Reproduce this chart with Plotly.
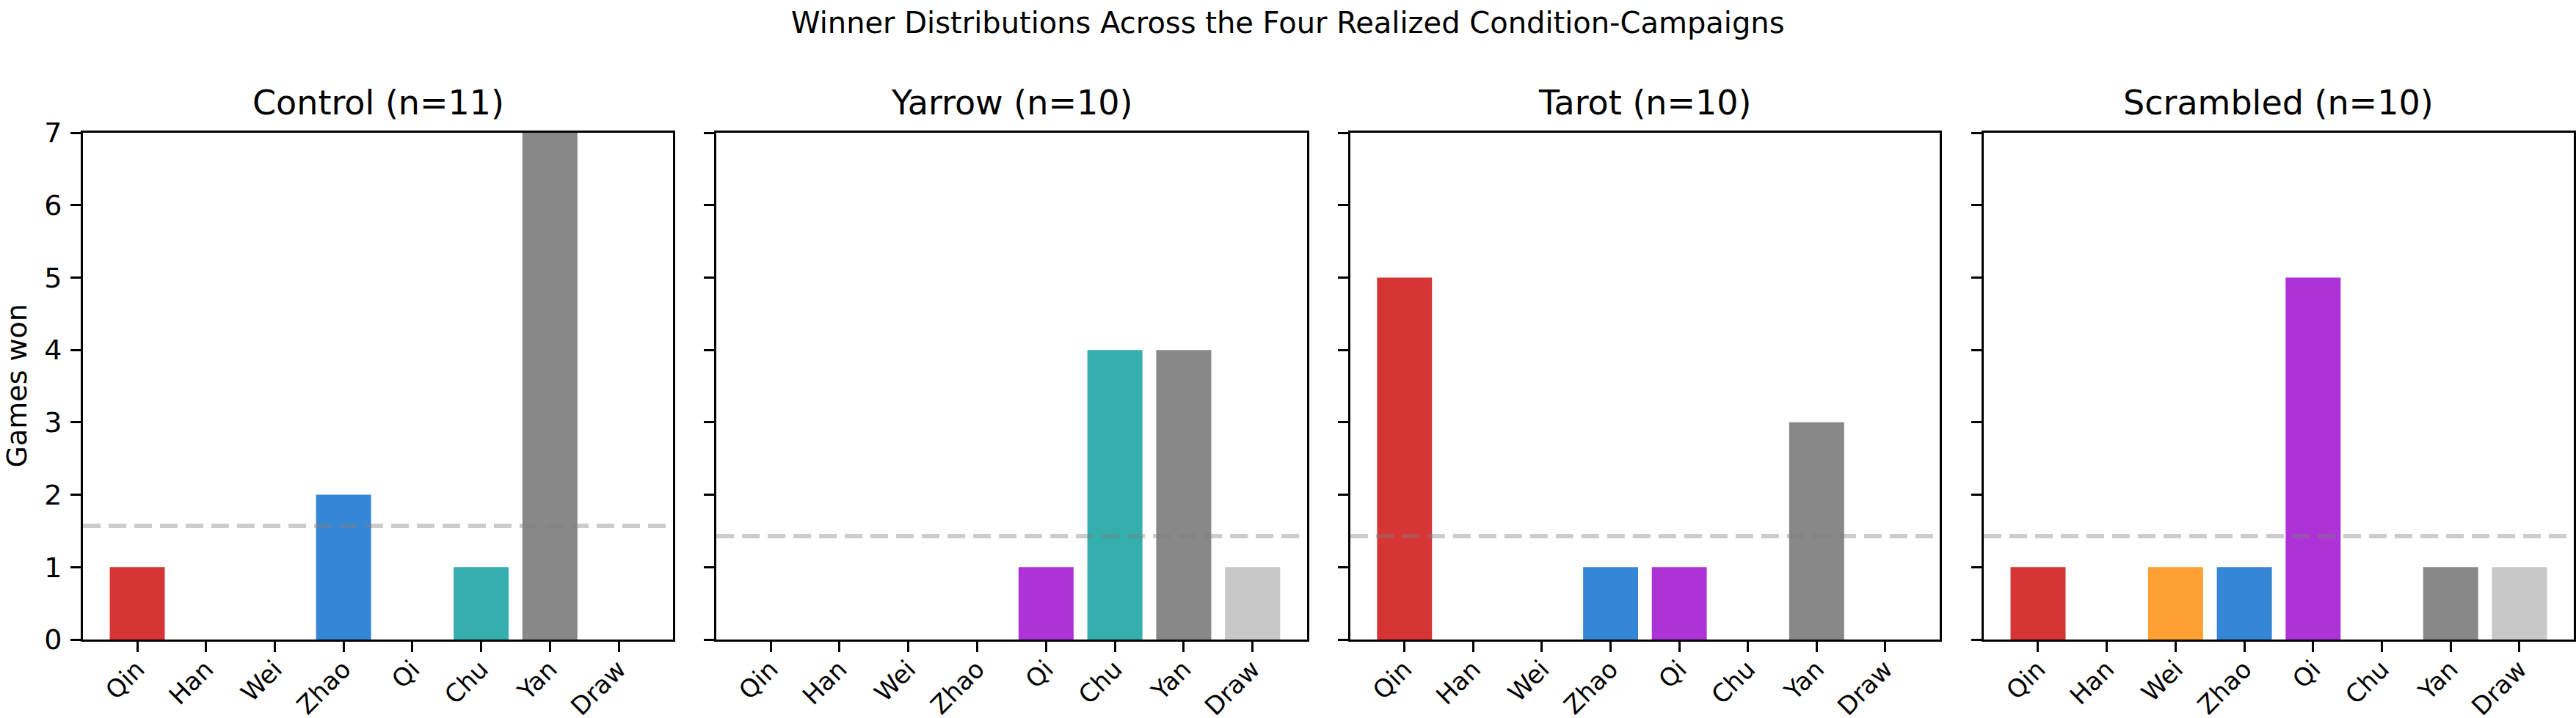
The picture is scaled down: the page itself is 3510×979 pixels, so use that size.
import plotly.graph_objects as go

# ---- data ----
categories = ["Qin", "Han", "Wei", "Zhao", "Qi", "Chu", "Yan", "Draw"]
panel_names = ["Control", "Yarrow", "Tarot", "Scrambled"]
control = [1, 0, 0, 2, 0, 1, 7, 0]
yarrow = [0, 0, 0, 0, 1, 4, 4, 1]
tarot = [5, 0, 0, 1, 1, 0, 3, 0]
scrambled = [1, 0, 1, 1, 5, 0, 1, 1]
series = [control, yarrow, tarot, scrambled]
n_states = 7
bar_colors = ["#d63535", "#43a047", "#ffa035", "#3686d6", "#ad33d6", "#35aeae", "#888888", "#c8c8c8"]
y_ticks = [0, 1, 2, 3, 4, 5, 6, 7]
suptitle = "Winner Distributions Across the Four Realized Condition-Campaigns"
y_label = "Games won"

# ---- layout geometry ----
W, H = 3510, 979
ML, MR, MT, MB = 113, 3, 181, 107
domains = [[0.0, 0.2369], [0.2543, 0.4914], [0.5088, 0.7454], [0.7631, 1.0]]
FONT = "DejaVu Sans"

fig = go.Figure()
layout = dict(
    width=W, height=H,
    margin=dict(l=ML, r=MR, t=MT, b=MB, pad=0, autoexpand=False),
    paper_bgcolor="white", plot_bgcolor="white",
    showlegend=False,
    font=dict(family=FONT, size=38, color="black"),
    bargap=0.2,
)
annotations = []
shapes = []
for i, (name, vals) in enumerate(zip(panel_names, series)):
    xa = "x" if i == 0 else f"x{i+1}"
    ya = "y" if i == 0 else f"y{i+1}"
    n = sum(vals)
    fig.add_trace(go.Bar(
        x=categories, y=vals, xaxis=xa, yaxis=ya,
        marker=dict(color=bar_colors, line=dict(width=0)),
        width=0.8,
    ))
    layout["xaxis" if i == 0 else f"xaxis{i+1}"] = dict(
        domain=domains[i], anchor=ya, automargin=False,
        range=[-0.79, 7.79], type="category",
        categoryorder="array", categoryarray=categories,
        showline=True, linecolor="black", linewidth=3, mirror=True,
        ticks="outside", ticklen=14, tickwidth=3, tickcolor="black",
        tickangle=-45, tickfont=dict(family=FONT, size=34),
        ticklabeloverflow="allow", ticklabelstandoff=-10,
        showgrid=False, zeroline=False,
    )
    layout["yaxis" if i == 0 else f"yaxis{i+1}"] = dict(
        domain=[0, 1], anchor=xa, automargin=False,
        range=[0, 7], tickvals=y_ticks,
        showticklabels=(i == 0),
        showline=True, linecolor="black", linewidth=3, mirror=True,
        ticks="outside", ticklen=14, tickwidth=3, tickcolor="black",
        tickfont=dict(family=FONT, size=38), ticklabelstandoff=4,
        showgrid=False, zeroline=False,
    )
    shapes.append(dict(
        type="line", xref=f"{xa} domain", yref=ya,
        x0=0, x1=1, y0=n / n_states, y1=n / n_states,
        line=dict(color="rgba(128,128,128,0.4)", width=6, dash="24px,11px"),
        layer="above",
    ))
    annotations.append(dict(
        text=f"{name} (n={n})", xref="paper", yref="paper",
        x=(domains[i][0] + domains[i][1]) / 2, y=1,
        xanchor="center", yanchor="bottom", yshift=12, showarrow=False,
        font=dict(family=FONT, size=46, color="black"),
    ))

annotations.append(dict(
    text=y_label, xref="paper", yref="paper", x=0, y=0.5,
    xanchor="center", yanchor="middle", xshift=-91, textangle=-90,
    showarrow=False, font=dict(family=FONT, size=38, color="black"),
))
annotations.append(dict(
    text=suptitle, xref="paper", yref="paper", x=0.5 - (ML - MR) / 2 / (W - ML - MR), y=1,
    xanchor="center", yanchor="middle", yshift=MT - 31, showarrow=False,
    font=dict(family=FONT, size=40, color="black"),
))
layout["annotations"] = annotations
layout["shapes"] = shapes
fig.update_layout(**layout)
fig.write_html("out.html")
